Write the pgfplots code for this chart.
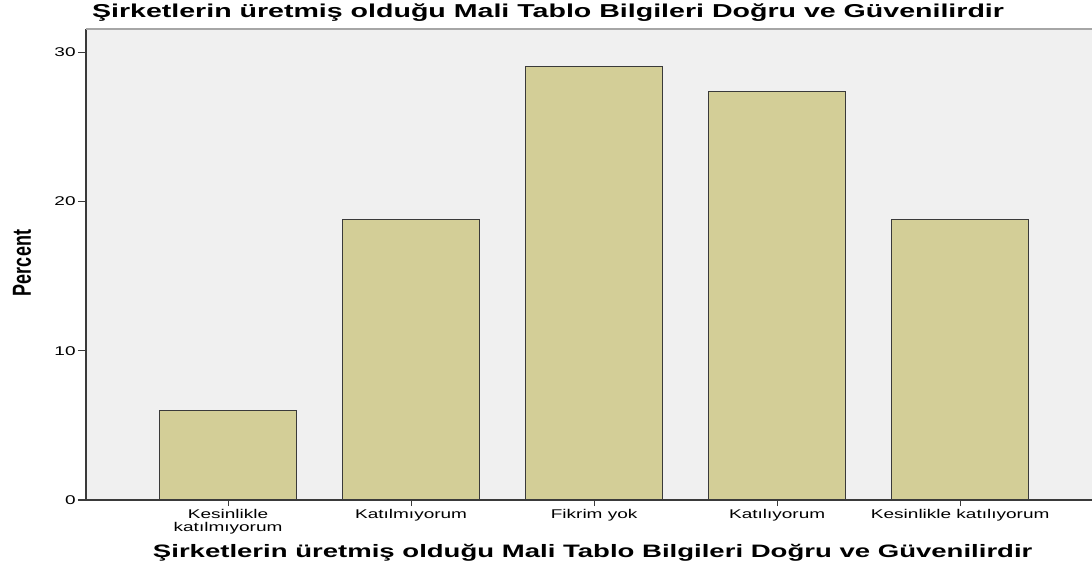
\documentclass[border=0pt]{standalone}
\usepackage{fontspec}
\usepackage{graphicx}
\setmainfont{Liberation Sans}
\newfontfamily\tickfont[FakeStretch=1.5]{Liberation Sans}
\newfontfamily\titlefont[FakeStretch=1.53]{Liberation Sans}
\usepackage{pgfplots}
\pgfplotsset{compat=1.18}
\definecolor{bgc}{HTML}{F0F0F0}
\definecolor{barc}{HTML}{D3CE97}
\definecolor{edgec}{HTML}{3A3A3A}
\begin{document}
\begin{tikzpicture}
\path[use as bounding box] (-64.5pt,-51pt) rectangle (754.5pt,375pt);
\begin{axis}[
    at={(0pt,0pt)}, anchor=south west,
    scale only axis, width=754.5pt, height=353.25pt,
    xmin=-0.776, xmax=4.72, ymin=0, ymax=31.55,
    axis background/.style={fill=bgc},
    axis x line*=bottom, axis y line*=left,
    axis line style={-, edgec, line width=1.2pt},
    ybar, bar width=0.749,
    xtick={0,1,2,3,4},
    xticklabels={{Kesinlikle\\katılmıyorum},Katılmıyorum,Fikrim yok,Katılıyorum,Kesinlikle katılıyorum},
    x tick label style={align=center, font=\tickfont\fontsize{9.5}{9.75}\selectfont, yshift=1pt},
    ytick={0,10,20,30},
    /pgf/number format/assume math mode=true,
    y tick label style={font=\tickfont\fontsize{9.5}{10}\selectfont},
    tick align=outside,
    xtick style={edgec, line width=0.8pt, /pgfplots/major tick length=4.5pt},
    ytick style={edgec, line width=0.8pt, /pgfplots/major tick length=6pt},
    clip=false,
]
\addplot[fill=barc, draw=edgec, line width=0.9pt] coordinates {(0,5.98) (1,18.80) (2,29.06) (3,27.35) (4,18.80)};
\draw[gray!70, line width=1pt] (rel axis cs:0,1) -- (rel axis cs:1,1);
\end{axis}
\node[font=\titlefont\bfseries\fontsize{14}{16}\selectfont] at (346.5pt,365.25pt) {Şirketlerin üretmiş olduğu Mali Tablo Bilgileri Doğru ve Güvenilirdir};
\node[font=\titlefont\bfseries\fontsize{13.5}{16}\selectfont] at (380pt,-39.75pt) {Şirketlerin üretmiş olduğu Mali Tablo Bilgileri Doğru ve Güvenilirdir};
\node[font=\bfseries\fontsize{13.5}{15}\selectfont, rotate=90] at (-48pt,177.75pt) {\scalebox{1}[1.45]{Percent}};
\end{tikzpicture}
\end{document}
